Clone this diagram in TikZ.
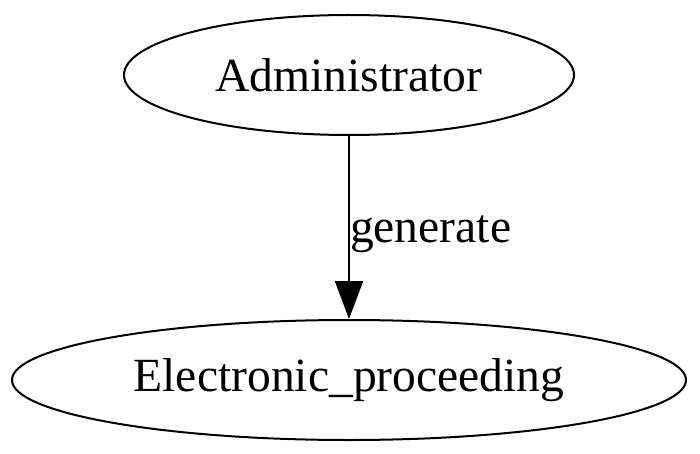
\documentclass[tikz,border=0pt]{standalone}
\usepackage{fontspec}
\setmainfont{Liberation Serif}
\usetikzlibrary{shapes.geometric,arrows.meta}
\begin{document}
\begin{tikzpicture}[x=1pt,y=-1pt,
  ell/.style={ellipse,draw,line width=2pt,inner sep=0pt,font=\fontsize{47.6}{50}\selectfont},
  edge/.style={line width=2pt,-{Triangle[length=38pt,width=28pt]}}]
\useasboundingbox (0,0) rectangle (700,454);
\node[ell,minimum width=450pt,minimum height=120pt] (a) at (349,75) {Administrator};
\node[ell,minimum width=674pt,minimum height=120pt] (b) at (349,380) {Electronic\_proceeding};
\draw[edge] (a) -- (b) node[pos=0.49,anchor=west,inner sep=0pt,yshift=-9pt,font=\fontsize{47.6}{50}\selectfont] {generate};
\end{tikzpicture}
\end{document}
